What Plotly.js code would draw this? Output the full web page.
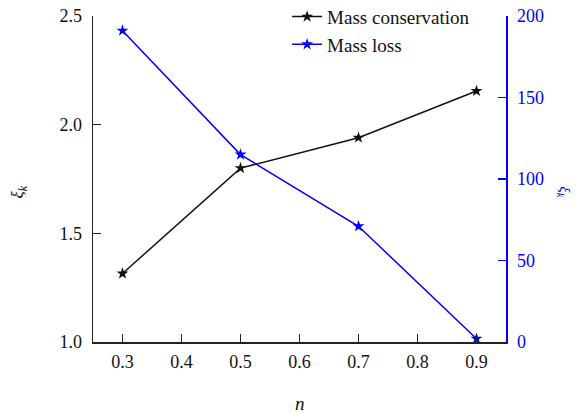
<!DOCTYPE html>
<html>
<head>
<meta charset="utf-8">
<script src="https://cdn.plot.ly/plotly-3.0.1.min.js"></script>
<style>
  html, body { margin: 0; padding: 0; background: #fff; }
  #chart { width: 576px; height: 413px; }
</style>
</head>
<body>
<div id="chart"></div>
<script>
// Exponent n on the x axis
const nValues = [0.3, 0.5, 0.7, 0.9];
// ξ_k with mass conservation (left axis)
const massConservation = [1.315, 1.80, 1.94, 2.155];
// ξ_k with mass loss (right axis)
const massLoss = [191, 115, 71, 2];
const xTicks = [0.3, 0.4, 0.5, 0.6, 0.7, 0.8, 0.9];
const xTickLabels = ['0.3', '0.4', '0.5', '0.6', '0.7', '0.8', '0.9'];
const yTicks = [1.0, 1.5, 2.0, 2.5];
const yTickLabels = ['1.0', '1.5', '2.0', '2.5'];
const y2Ticks = [0, 50, 100, 150, 200];

const serif = 'Liberation Serif, Times New Roman, serif';
const blue = '#0000ff';
const black = '#111111';

const traces = [
  {
    x: nValues, y: massConservation, name: 'Mass conservation',
    type: 'scatter', mode: 'lines+markers',
    line: { color: black, width: 1.5 },
    marker: { symbol: 'star', size: 9, color: black },
    yaxis: 'y'
  },
  {
    x: nValues, y: massLoss, name: 'Mass loss',
    type: 'scatter', mode: 'lines+markers',
    line: { color: blue, width: 1.5 },
    marker: { symbol: 'star', size: 9, color: blue },
    yaxis: 'y2'
  }
];

const layout = {
  width: 576, height: 413,
  margin: { l: 93, r: 70, t: 16, b: 71, autoexpand: false },
  paper_bgcolor: '#fff', plot_bgcolor: '#fff',
  font: { family: serif, size: 18, color: '#111' },
  showlegend: true,
  legend: {
    x: 0.47, y: 1.056, xanchor: 'left', yanchor: 'top',
    bgcolor: 'rgba(0,0,0,0)', font: { family: serif, size: 19, color: '#111' },
    tracegroupgap: 0
  },
  xaxis: {
    range: [0.25, 0.95], tickvals: xTicks, ticktext: xTickLabels,
    showline: true, linecolor: '#222', linewidth: 1.5, mirror: false,
    ticks: 'inside', ticklen: 8, tickwidth: 1.5, tickcolor: '#222',
    showgrid: false, zeroline: false, ticklabelstandoff: 3,
    tickfont: { family: serif, size: 18, color: '#111' }
  },
  yaxis: {
    range: [1.0, 2.5], tickvals: yTicks, ticktext: yTickLabels,
    showline: true, linecolor: '#222', linewidth: 1.5, mirror: false,
    ticks: 'inside', ticklen: 8, tickwidth: 1.5, tickcolor: '#222',
    showgrid: false, zeroline: false, ticklabelstandoff: 6,
    tickfont: { family: serif, size: 18, color: '#111' }
  },
  yaxis2: {
    range: [0, 200], tickvals: y2Ticks,
    overlaying: 'y', side: 'right',
    showline: true, linecolor: blue, linewidth: 1.5, mirror: false,
    ticks: 'inside', ticklen: 8, tickwidth: 1.5, tickcolor: blue,
    showgrid: false, zeroline: false, ticklabelstandoff: 6,
    tickfont: { family: serif, size: 18, color: blue }
  },
  annotations: [
    {
      // x-axis title
      xref: 'paper', yref: 'paper', x: 0.5, y: -0.188, xanchor: 'center', yanchor: 'middle',
      text: '<i>n</i>', showarrow: false,
      font: { family: serif, size: 19, color: '#111' }
    },
    {
      // left y-axis title
      xref: 'paper', yref: 'paper', x: -0.178, y: 0.46, xanchor: 'center', yanchor: 'middle',
      text: '<i>ξ</i><sub><i>k</i></sub>', textangle: -90, showarrow: false,
      font: { family: serif, size: 17, color: '#111' }
    },
    {
      // right y-axis title
      xref: 'paper', yref: 'paper', x: 1.14, y: 0.46, xanchor: 'center', yanchor: 'middle',
      text: '<i>ξ</i><sub><i>k</i></sub>', textangle: 90, showarrow: false,
      font: { family: serif, size: 15, color: blue }
    }
  ]
};

Plotly.newPlot('chart', traces, layout, { displayModeBar: false, staticPlot: true });
</script>
</body>
</html>
